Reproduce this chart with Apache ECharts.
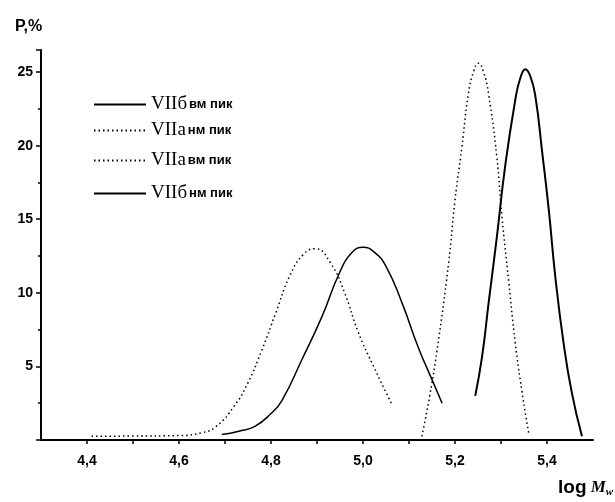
<!DOCTYPE html>
<html>
<head>
<meta charset="utf-8">
<script src="https://cdn.jsdelivr.net/npm/echarts@6/dist/echarts.min.js"></script>
<style>
  html, body { margin: 0; padding: 0; background: #fff; }
  #chart { width: 615px; height: 502px; }
</style>
</head>
<body>
<div id="chart"></div>
<script>
// [log Mw, P %]
const vbVm = [[5.244, 3.0], [5.259, 5.7], [5.273, 9.3], [5.291, 13.8], [5.309, 18.6], [5.331, 23.1],
  [5.342, 24.6], [5.353, 25.2], [5.364, 24.7], [5.375, 23.3], [5.389, 19.7], [5.404, 15.6],
  [5.418, 11.1], [5.436, 6.6], [5.454, 3.2], [5.476, 0.25]]
const vaNm = [[4.41, 0.25], [4.5, 0.27], [4.6, 0.3], [4.65, 0.5], [4.68, 0.9], [4.72, 2.3], [4.75, 3.9],
  [4.78, 6.1], [4.81, 8.6], [4.84, 11.1], [4.87, 12.6], [4.896, 13.0], [4.93, 12.0], [4.96, 10.0],
  [4.99, 7.3], [5.02, 5.2], [5.063, 2.4]]
const vaVm = [[5.128, 0.25], [5.145, 3.0], [5.161, 6.1], [5.186, 12.0], [5.2, 16.3], [5.215, 19.9],
  [5.229, 23.5], [5.24, 25.0], [5.251, 25.6], [5.262, 25.0], [5.273, 23.5], [5.291, 19.2],
  [5.302, 15.2], [5.317, 10.7], [5.331, 6.6], [5.346, 3.2], [5.36, 0.5]]
const vbNm = [[4.693, 0.37], [4.73, 0.6], [4.765, 0.93], [4.8, 1.8], [4.824, 2.7], [4.867, 5.45],
  [4.911, 8.4], [4.948, 11.3], [4.975, 12.7], [5.0, 13.1], [5.025, 12.75], [5.05, 11.8],
  [5.085, 9.3], [5.12, 6.3], [5.15, 4.1], [5.172, 2.5]]

const names = ['VIIб вм пик', 'VIIa нм пик', 'VIIa вм пик', 'VIIб нм пик']
const legendTops = [95, 121, 151, 184]

const serif = 'Liberation Serif'
const sans = 'Liberation Sans'

const legendRich = {
  r: { fontFamily: serif, fontSize: 19, color: '#000' },
  s: { fontFamily: sans, fontSize: 13, fontWeight: 'bold', color: '#000', padding: [0, 0, 0, 2] }
}

const mkLine = (name, data, type, width) => ({
  name: name,
  type: 'line',
  data: data,
  symbol: 'none',
  smooth: 0.5,
  lineStyle: { color: '#000', width: width, type: type },
  itemStyle: { color: '#000' }
})

let option = {
  animation: false,
  backgroundColor: '#fff',
  title: [
    {
      text: 'P,%',
      left: 10, top: 14,
      textStyle: { fontFamily: sans, fontSize: 16, fontWeight: 'bold', color: '#000' }
    },
    {
      text: '{a|log}{m| M}{w|w}',
      left: 553, top: 472,
      textStyle: {
        rich: {
          a: { fontFamily: sans, fontSize: 19, color: '#000' },
          m: { fontFamily: serif, fontStyle: 'italic', fontSize: 17, color: '#000' },
          w: { fontFamily: serif, fontStyle: 'italic', fontSize: 11, color: '#000', padding: [10, 0, 0, 0] }
        }
      }
    }
  ],
  legend: names.map((n, i) => ({
    data: [n],
    orient: 'vertical',
    left: 93,
    top: legendTops[i],
    padding: 0,
    itemWidth: 52,
    itemHeight: 14,
    itemStyle: { opacity: 0 },
    formatter: (name) => {
      const parts = name.split(' ')
      return '{r|' + parts[0] + '}{s|' + parts.slice(1).join(' ') + '}'
    },
    textStyle: { rich: legendRich }
  })),
  grid: { left: 41, right: 22, top: 50, bottom: 62 },
  xAxis: {
    type: 'value',
    min: 4.3,
    max: 5.5,
    interval: 0.1,
    axisLine: { lineStyle: { color: '#000', width: 2 } },
    axisTick: { inside: false, length: 4, lineStyle: { color: '#000', width: 1.5 } },
    splitLine: { show: false },
    axisLabel: {
      color: '#000', fontFamily: sans, fontWeight: 'bold', fontSize: 14, margin: 14,
      showMinLabel: false, showMaxLabel: false,
      formatter: (v) => {
        const k = Math.round(v * 10)
        if (k % 2 !== 0) return ''
        return (k / 10).toFixed(1).replace('.', ',')
      }
    }
  },
  yAxis: {
    type: 'value',
    min: 0,
    max: 26.5,
    interval: 5,
    axisLine: { lineStyle: { color: '#000', width: 2 } },
    axisTick: { inside: false, length: 5, lineStyle: { color: '#000', width: 1.5 } },
    minorTick: { show: true, splitNumber: 2, length: 3, lineStyle: { color: '#000', width: 1.5 } },
    splitLine: { show: false },
    minorSplitLine: { show: false },
    axisLabel: {
      color: '#000', fontFamily: sans, fontWeight: 'bold', fontSize: 14, margin: 8,
      formatter: (v) => (v > 0 && v % 5 === 0) ? String(v) : ''
    }
  },
  series: [
    mkLine(names[0], vbVm, 'solid', 2),
    mkLine(names[1], vaNm, [1.5, 3], 1.5),
    mkLine(names[2], vaVm, [1.5, 3], 1.5),
    mkLine(names[3], vbNm, 'solid', 1.5)
  ]
}

const chartDom = document.getElementById('chart')
const myChart = echarts.init(chartDom)
option && myChart.setOption(option)
</script>
</body>
</html>
